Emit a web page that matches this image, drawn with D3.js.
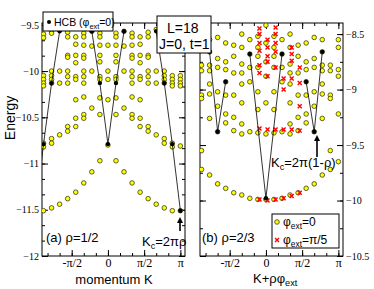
<!DOCTYPE html>
<html>
<head>
<meta charset="utf-8">
<script src="https://cdn.jsdelivr.net/npm/d3@7"></script>
<style>
  body { margin: 0; background: #fff; }
  svg text { font-family: "Liberation Sans", Arial, sans-serif; }
  .tick text { font-family: "Liberation Serif", "Times New Roman", serif; }
</style>
</head>
<body>
<div id="chart"></div>
<script>
const PI = Math.PI;

// momentum index n  ->  K = n * pi / 9   (L = 18)
const xTickVals = [-PI / 2, 0, PI / 2, PI];
const xTickLabels = ['-\u03c0/2', '0', '\u03c0/2', '\u03c0'];
const yTicksA = [-12, -11.5, -11, -10.5, -10, -9.5];
const yTicksB = [-10.5, -10, -9.5, -9, -8.5];

// (a) rho = 1/2 : hard-core boson branches (phi_ext = 0)
const hcbA = [
  [[-9, -11.51], [-8, -10.79], [-7, -10.13], [-6, -9.57]],
  [[-2, -9.57], [-1, -10.13], [0, -10.79], [1, -10.13], [2, -9.57]],
  [[6, -9.57], [7, -10.13], [8, -10.79], [9, -11.51]]
];

// (a) full spectrum, phi_ext = 0 : [n, energies]
const yellowA = [
  [-8, [-9.60, -9.64, -10.05, -10.09, -10.13, -10.16, -10.78, -10.82, -11.51]],
  [-7, [-9.56, -9.59, -10.00, -10.05, -10.09, -10.13, -10.73, -10.78, -11.48]],
  [-6, [-9.55, -10.00, -10.13, -10.69, -11.44]],
  [-5, [-9.58, -9.63, -9.83, -9.85, -10.00, -10.06, -10.13, -10.60, -10.65, -11.38]],
  [-4, [-9.63, -9.71, -9.83, -9.91, -10.06, -10.09, -10.31, -10.51, -10.60, -11.31]],
  [-3, [-9.59, -9.63, -9.72, -9.83, -9.86, -10.00, -10.06, -10.13, -10.28, -10.47, -10.51, -11.21]],
  [-2, [-9.57, -9.73, -10.00, -10.40, -11.09]],
  [-1, [-9.59, -9.63, -9.72, -9.83, -9.90, -10.06, -10.09, -10.29, -10.47, -10.97]],
  [0, [-9.52, -9.72, -10.00, -10.09, -10.31, -10.80]],
  [1, [-9.59, -9.63, -9.72, -9.83, -9.90, -10.06, -10.09, -10.29, -10.47, -10.97]],
  [2, [-9.57, -9.73, -10.00, -10.40, -11.09]],
  [3, [-9.59, -9.63, -9.72, -9.83, -9.86, -10.00, -10.06, -10.13, -10.28, -10.47, -10.51, -11.21]],
  [4, [-9.63, -9.71, -9.83, -9.91, -10.06, -10.09, -10.31, -10.51, -10.60, -11.31]],
  [5, [-9.58, -9.63, -9.83, -9.85, -10.00, -10.06, -10.13, -10.60, -10.65, -11.38]],
  [6, [-9.55, -10.00, -10.13, -10.69, -11.44]],
  [7, [-9.56, -9.59, -10.00, -10.05, -10.09, -10.13, -10.73, -10.78, -11.48]],
  [8, [-9.60, -9.64, -10.05, -10.09, -10.13, -10.16, -10.78, -10.82, -11.51]],
  [9, [-10.05, -10.09, -10.13, -10.16, -10.81, -11.51]]
];

// (b) rho = 2/3 : hard-core boson branches
const hcbB = [
  [[-7, -8.66], [-6, -9.38], [-5, -8.93]],
  [[-2, -8.68], [0, -9.98], [2, -8.68]],
  [[5, -8.93], [6, -9.38], [7, -8.66]]
];

// (b) phi_ext = 0 : [n, energies]
const yellowB = [
  [-8, [-8.78, -8.83, -9.05, -9.08, -9.55, -9.72]],
  [-7, [-8.55, -8.66, -8.78, -8.83, -8.95, -9.04, -9.26, -9.77]],
  [-6, [-8.53, -8.72, -8.80, -9.02, -9.15, -9.38, -9.85]],
  [-5, [-8.58, -8.75, -8.82, -8.93, -9.05, -9.22, -9.30, -9.89]],
  [-4, [-8.60, -8.70, -8.85, -9.05, -9.25, -9.37, -9.93]],
  [-3, [-8.50, -8.62, -8.77, -8.85, -8.95, -9.12, -9.31, -9.40, -9.95]],
  [-2, [-8.55, -8.68, -8.80, -8.93, -9.38, -9.98]],
  [-1, [-8.52, -8.62, -8.70, -8.80, -9.02, -9.18, -9.39, -9.99]],
  [0, [-8.42, -8.58, -8.75, -8.88, -9.12, -9.40, -9.99]],
  [1, [-8.52, -8.62, -8.70, -8.80, -9.02, -9.18, -9.39, -9.99]],
  [2, [-8.55, -8.68, -8.80, -8.93, -9.38, -9.98]],
  [3, [-8.50, -8.62, -8.77, -8.85, -8.95, -9.12, -9.31, -9.40, -9.95]],
  [4, [-8.60, -8.70, -8.85, -9.05, -9.25, -9.37, -9.93]],
  [5, [-8.58, -8.75, -8.82, -8.93, -9.05, -9.22, -9.30, -9.89]],
  [6, [-8.53, -8.72, -8.80, -9.02, -9.15, -9.38, -9.85]],
  [7, [-8.55, -8.66, -8.78, -8.83, -8.95, -9.04, -9.26, -9.77]],
  [8, [-8.78, -8.83, -9.05, -9.08, -9.55, -9.72]],
  [9, [-8.55, -8.62, -8.82, -8.88, -9.22, -9.65]]
];

// (b) phi_ext = pi/5 : [K + rho*phi in units of pi/9, energies]
const redB = [
  [-0.8, [-8.45, -8.50, -8.58, -8.65, -8.78, -8.85, -9.35, -9.99]],
  [0.2, [-8.55, -8.62, -8.70, -8.75, -8.88, -9.36, -10.00]],
  [1.2, [-8.44, -8.50, -8.58, -8.66, -8.80, -9.36, -9.99]],
  [2.2, [-8.90, -9.00, -9.36, -9.98]],
  [3.2, [-8.62, -8.68, -8.74, -8.90, -9.36, -9.96]],
  [4.2, [-8.80, -8.94, -9.15, -9.37, -9.93]]
];

const svg = d3.select('#chart').append('svg')
  .attr('width', 374)
  .attr('height', 289);

const plotTop = 23, plotBottom = 256;
const kDomain = [-0.91 * PI, 1.064 * PI];

function flat(rows) {
  const out = [];
  rows.forEach(r => r[1].forEach(e => out.push([r[0] * PI / 9, e])));
  return out;
}

function drawPanel(p) {
  const x = d3.scaleLinear().domain(kDomain).range([p.left, p.right]);
  const y = d3.scaleLinear().domain(p.yDomain).range([plotBottom, plotTop]);

  svg.append('clipPath').attr('id', p.id)
    .append('rect')
    .attr('x', p.left).attr('y', plotTop)
    .attr('width', p.right - p.left).attr('height', plotBottom - plotTop);

  // axes: major + minor ticks, all pointing inward
  const minorX = d3.range(-5, 7).map(i => i * PI / 6);
  const minorY = d3.range(p.yDomain[0], p.yDomain[1] + 1e-6, p.yMinor);
  const ax = svg.append('g').attr('stroke-width', 1);

  const addAxis = (axis, tx, ty, vals, size, fmt) => {
    const g = ax.append('g')
      .attr('transform', `translate(${tx},${ty})`)
      .call(axis.tickValues(vals).tickSizeInner(size).tickSizeOuter(0).tickPadding(3).tickFormat(fmt));
    g.select('.domain').remove();
    g.selectAll('line').attr('stroke', '#000');
    return g;
  };
  const none = () => '';
  addAxis(d3.axisBottom(x), 0, plotBottom, minorX, -3, none);
  addAxis(d3.axisTop(x), 0, plotTop, minorX, -3, none);
  addAxis(d3.axisTop(x), 0, plotTop, xTickVals, -6, none);
  const xb = addAxis(d3.axisBottom(x), 0, plotBottom, xTickVals, -6, (d, i) => xTickLabels[i]);
  xb.selectAll('text').attr('font-size', 12).attr('dy', '0.68em').attr('fill', '#000');

  const yLab = p.labelRight ? d3.axisRight(y) : d3.axisLeft(y);
  const yOpp = p.labelRight ? d3.axisLeft(y) : d3.axisRight(y);
  const xl = p.labelRight ? p.right : p.left;
  const xo = p.labelRight ? p.left : p.right;
  addAxis(yLab, xl, 0, minorY, -3, none);
  addAxis(yOpp, xo, 0, minorY, -3, none);
  addAxis(yOpp, xo, 0, p.yTicks, -6, none);
  const yg = addAxis(yLab, xl, 0, p.yTicks, -6, d => d3.format('')(d));
  yg.selectAll('text').attr('font-size', 10).attr('fill', '#000');

  svg.append('rect')
    .attr('x', p.left).attr('y', plotTop)
    .attr('width', p.right - p.left).attr('height', plotBottom - plotTop)
    .attr('fill', 'none').attr('stroke', '#000').attr('stroke-width', 1);

  const plot = svg.append('g').attr('clip-path', `url(#${p.id})`);

  // yellow circles: phi_ext = 0
  plot.append('g').selectAll('circle')
    .data(flat(p.yellow))
    .join('circle')
    .attr('cx', d => x(d[0]))
    .attr('cy', d => y(d[1]))
    .attr('r', 2.3)
    .attr('fill', '#ffff00')
    .attr('stroke', '#3a3a1a')
    .attr('stroke-width', 0.8);

  // red crosses: phi_ext = pi/5
  if (p.red) {
    plot.append('g').selectAll('path')
      .data(flat(p.red))
      .join('path')
      .attr('d', d => {
        const cx = x(d[0]), cy = y(d[1]), s = 2;
        return `M${cx - s},${cy - s}L${cx + s},${cy + s}M${cx - s},${cy + s}L${cx + s},${cy - s}`;
      })
      .attr('stroke', '#ff0000')
      .attr('stroke-width', 1.4);
  }

  // hard-core boson branches
  const line = d3.line().x(d => x(d[0] * PI / 9)).y(d => y(d[1]));
  plot.append('g').selectAll('path')
    .data(p.hcb)
    .join('path')
    .attr('d', line)
    .attr('fill', 'none')
    .attr('stroke', '#000')
    .attr('stroke-width', 0.8);
  plot.append('g').selectAll('circle')
    .data(p.hcb.flat())
    .join('circle')
    .attr('cx', d => x(d[0] * PI / 9))
    .attr('cy', d => y(d[1]))
    .attr('r', 2.2)
    .attr('fill', '#000');

  return { x, y };
}

drawPanel({ id: 'clipA', left: 42, right: 185, yDomain: [-12, -9.48], yTicks: yTicksA, yMinor: 0.5 / 3, yellow: yellowA, hcb: hcbA });
drawPanel({ id: 'clipB', left: 200, right: 343, yDomain: [-10.5, -8.4], yTicks: yTicksB, yMinor: 0.25, yellow: yellowB, red: redB, hcb: hcbB, labelRight: true });

// text helper with subscripts
function rich(x, y, parts, size, anchor) {
  const t = svg.append('text').attr('x', x).attr('y', y)
    .attr('font-size', size).attr('text-anchor', anchor || 'start').attr('fill', '#000');
  let shift = 0;
  parts.forEach(([s, sub]) => {
    const dy = sub ? 3 - shift : -shift;
    shift = sub ? 3 : 0;
    t.append('tspan').attr('dy', dy).attr('font-size', sub ? size * 0.7 : size).text(s);
  });
  return t;
}

// axis titles
rich(114, 284, [['momentum K']], 13, 'middle');
rich(253, 283, [['K+\u03c1\u03c6'], ['ext', true]], 13);
svg.append('text')
  .attr('transform', 'translate(15,118) rotate(-90)')
  .attr('text-anchor', 'middle')
  .attr('font-size', 14)
  .text('Energy');

// panel labels and annotations
rich(46, 242, [['(a) \u03c1=1/2']], 13);
rich(202, 242, [['(b) \u03c1=2/3']], 13);
rich(142, 246, [['K'], ['c', true], ['=2\u03c0\u03c1']], 13);
rich(271, 167, [['K'], ['c', true], ['=2\u03c0(1-\u03c1)']], 13);

// arrows
const arrow = (x0, y0, y1) => {
  svg.append('line').attr('x1', x0).attr('x2', x0).attr('y1', y0).attr('y2', y1 + 4)
    .attr('stroke', '#000').attr('stroke-width', 1.6);
  svg.append('path').attr('d', `M${x0 - 3},${y1 + 6}L${x0},${y1}L${x0 + 3},${y1 + 6}Z`).attr('fill', '#000');
};
arrow(180, 231, 217);
arrow(317, 157, 135);

// legend (a)
svg.append('rect').attr('x', 43).attr('y', 12).attr('width', 70).attr('height', 19)
  .attr('fill', '#fff').attr('stroke', '#000');
svg.append('circle').attr('cx', 49).attr('cy', 22).attr('r', 2).attr('fill', '#000');
rich(54, 26, [['HCB (\u03c6'], ['ext', true], ['=0)']], 10.5);

// system box
svg.append('rect').attr('x', 157).attr('y', 16).attr('width', 54).attr('height', 37)
  .attr('fill', '#fff').attr('stroke', '#000');
rich(167, 33, [['L=18']], 14);
rich(159, 49, [['J=0, t=1']], 14);

// legend (b)
svg.append('rect').attr('x', 272).attr('y', 214).attr('width', 67).attr('height', 34)
  .attr('fill', '#fff').attr('stroke', '#000');
svg.append('circle').attr('cx', 277).attr('cy', 222).attr('r', 2.3)
  .attr('fill', '#ffff00').attr('stroke', '#3a3a1a').attr('stroke-width', 0.8);
svg.append('path').attr('d', 'M275,238L279,242M275,242L279,238').attr('stroke', '#f00').attr('stroke-width', 1.4);
rich(283, 226, [['\u03c6'], ['ext', true], ['=0']], 12);
rich(283, 244, [['\u03c6'], ['ext', true], ['=\u03c0/5']], 12);
</script>
</body>
</html>
